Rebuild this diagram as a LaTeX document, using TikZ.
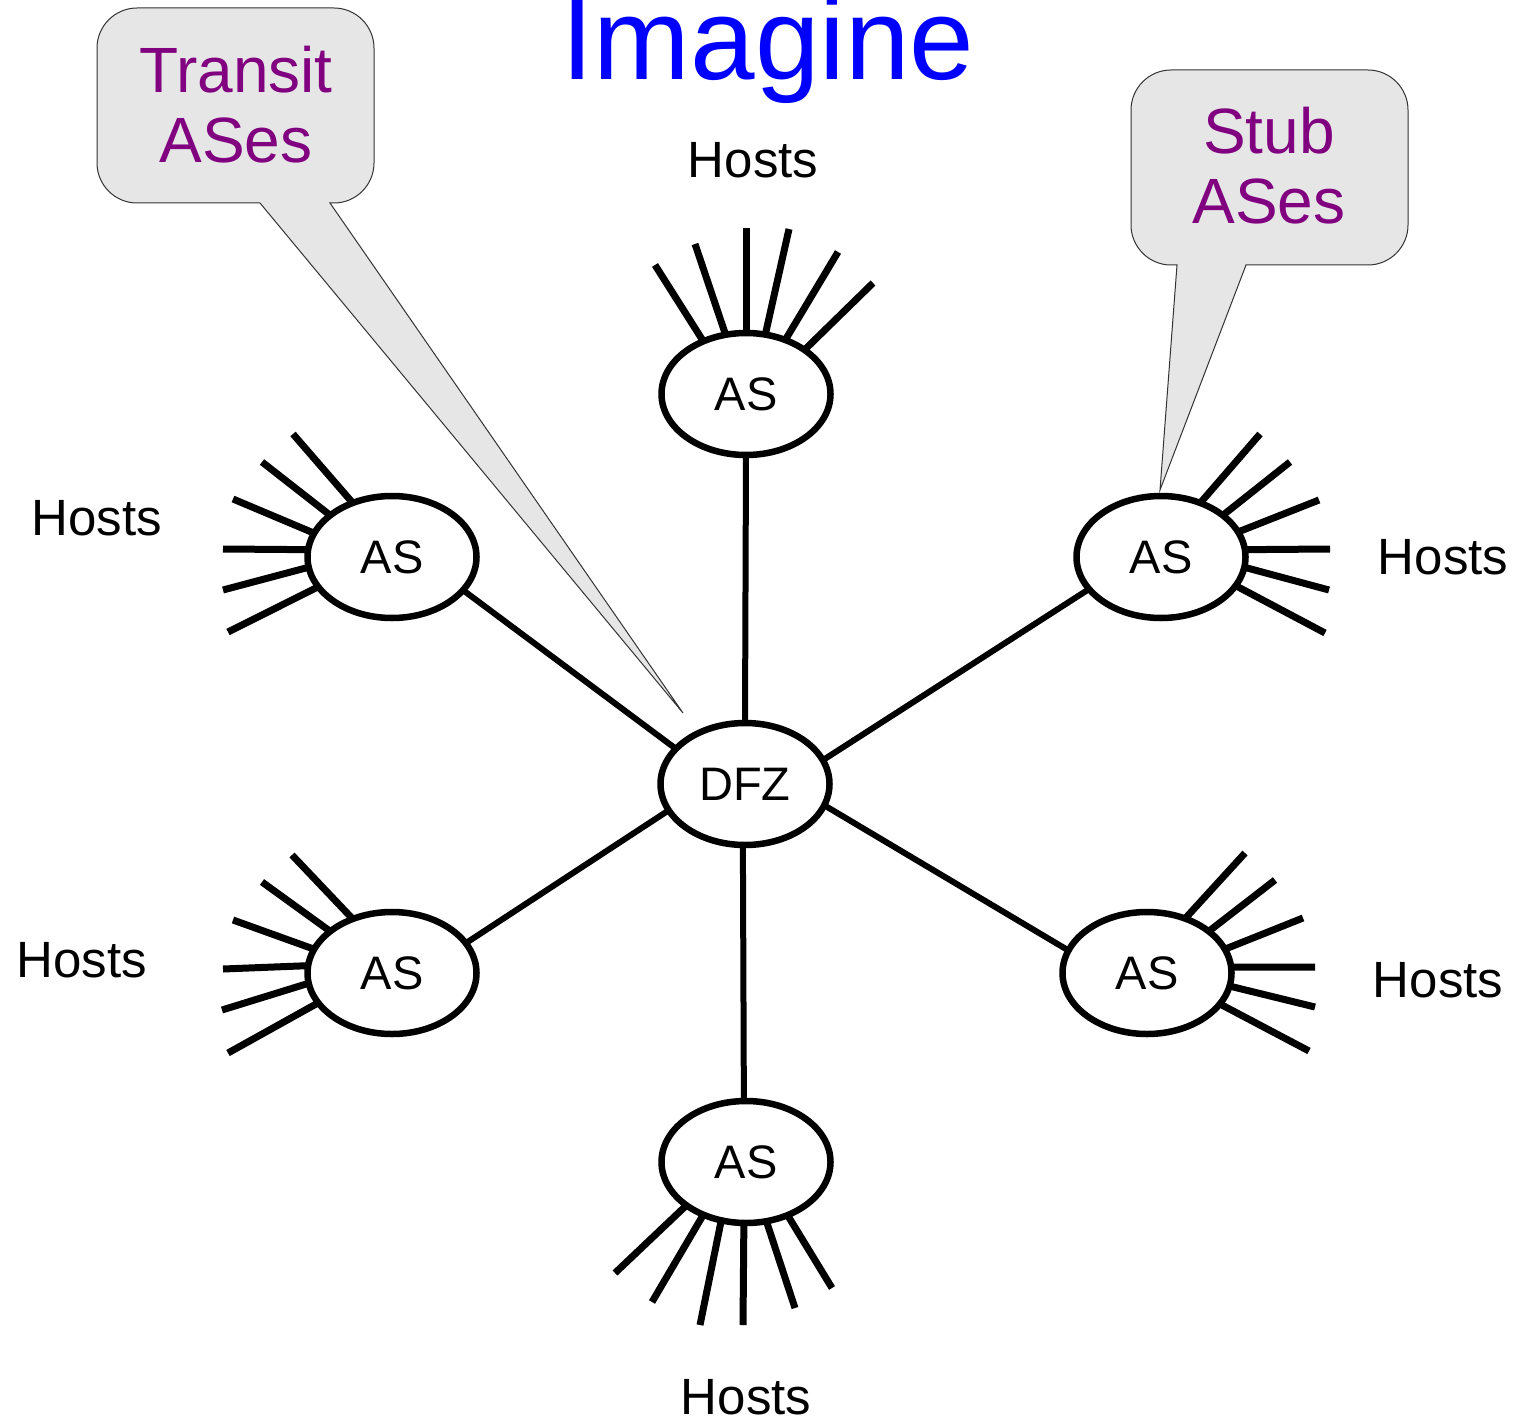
\documentclass[tikz,border=0pt]{standalone}
\usepackage{fontspec}
\setmainfont{Liberation Sans}
\usetikzlibrary{shapes.geometric}
\definecolor{calloutfill}{HTML}{E6E6E6}
\definecolor{calloutline}{HTML}{333333}
\definecolor{purpletext}{HTML}{800080}
\definecolor{titleblue}{HTML}{0000FF}
\begin{document}
\begin{tikzpicture}[x=1pt,y=-1pt,
  asnode/.style={ellipse, draw=black, fill=white, line width=6.5pt, minimum width=169pt,
    minimum height=122pt, inner sep=0pt, outer sep=0pt, font=\fontsize{47}{52}\selectfont},
  spoke/.style={line width=6pt},
  hostline/.style={line width=7pt},
  hostlabel/.style={font=\fontsize{51}{58}\selectfont, anchor=base, inner sep=0pt},
  callout/.style={fill=calloutfill, draw=calloutline, line width=1pt},
  callouttext/.style={text=purpletext, font=\fontsize{64}{70}\selectfont, align=center, inner sep=0pt}]

\useasboundingbox (0,0) rectangle (1522,1420);

% title
\node[text=titleblue, font=\fontsize{116}{120}\selectfont, anchor=base, inner sep=0pt] (title) at (768,80) {Imagine};

% callouts
\draw[callout] (330,203) -- (334,203) .. controls (356,203) and (374,185) .. (374,163)
  -- (374,48) .. controls (374,26) and (356,8) .. (334,8)
  -- (137,8) .. controls (115,8) and (97,26) .. (97,48)
  -- (97,163) .. controls (97,185) and (115,203) .. (137,203)
  -- (260,203) -- (683,713) -- cycle;
\node[callouttext] (transit) at (236,105) {Transit\\ASes};

\draw[callout] (1246,265) -- (1368,265) .. controls (1390,265) and (1408,247) .. (1408,225)
  -- (1408,110) .. controls (1408,88) and (1390,70) .. (1368,70)
  -- (1171,70) .. controls (1149,70) and (1131,88) .. (1131,110)
  -- (1131,225) .. controls (1131,247) and (1149,265) .. (1171,265)
  -- (1177,265) -- (1160,490) -- cycle;
\node[callouttext] (stub) at (1269,166) {Stub\\ASes};

% nodes
\node[asnode] (dfz) at (745,784) {DFZ};
\node[asnode] (asT) at (746,394) {AS};
\node[asnode] (asLU) at (392,557) {AS};
\node[asnode] (asRU) at (1161,557) {AS};
\node[asnode] (asLL) at (392,973) {AS};
\node[asnode] (asRL) at (1147,973) {AS};
\node[asnode] (asB) at (746,1162) {AS};

% spokes
\draw[spoke] (dfz.north) -- (asT.south);
\draw[spoke] (dfz.153.7) -- (asLU.-25);
\draw[spoke] (dfz.17.4) -- (asRU.204);
\draw[spoke] (dfz.199.5) -- (asLL.22.9);
\draw[spoke] (dfz.-15.8) -- (asRL.164.3);
\draw[spoke] (dfz.268) -- (asB.92);

% host lines
\foreach \a/\x/\y [count=\i] in {129/655/265, 109/695/244, 90/746/228, 72/789/229, 54/838/252, 37/873/283} {
  \coordinate (tE\i) at (\x,\y);
  \draw[hostline] (asT.\a) -- (tE\i);
}
\foreach \a/\x/\y [count=\i] in {126/293/434, 146/262/462, 163/233/499, 175/223/549, 187/223/590, 202/228/632} {
  \coordinate (luE\i) at (\x,\y);
  \draw[hostline] (asLU.\a) -- (luE\i);
}
\foreach \a/\x/\y [count=\i] in {54/1260/434, 34/1290/462, 18/1319/500, 5/1330/549, -7/1329/590, -21/1325/633} {
  \coordinate (ruE\i) at (\x,\y);
  \draw[hostline] (asRU.\a) -- (ruE\i);
}
\foreach \a/\x/\y [count=\i] in {126/292/855, 146/262/882, 163/233/920, 175/223/969, 187/222/1010, 202/228/1053} {
  \coordinate (llE\i) at (\x,\y);
  \draw[hostline] (asLL.\a) -- (llE\i);
}
\foreach \a/\x/\y [count=\i] in {55/1245/853, 34/1275/880, 17/1303/918, 4/1315/967, -9/1315/1007, -23/1309/1051} {
  \coordinate (rlE\i) at (\x,\y);
  \draw[hostline] (asRL.\a) -- (rlE\i);
}
\foreach \a/\x/\y [count=\i] in {216/615/1273, 231/652/1302, 247/700/1325, 268/743/1325, 289/795/1308, 308/832/1288} {
  \coordinate (bE\i) at (\x,\y);
  \draw[hostline] (asB.\a) -- (bE\i);
}

% host labels
\node[hostlabel] (hT) at (753,178) {Hosts};
\node[hostlabel] (hLU) at (97,535) {Hosts};
\node[hostlabel] (hRU) at (1443,574) {Hosts};
\node[hostlabel] (hLL) at (82,977) {Hosts};
\node[hostlabel] (hRL) at (1438,997) {Hosts};
\node[hostlabel] (hB) at (746,1414) {Hosts};
\end{tikzpicture}
\end{document}
